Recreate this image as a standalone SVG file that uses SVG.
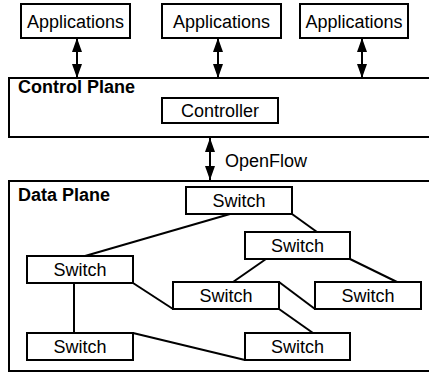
<svg xmlns="http://www.w3.org/2000/svg" width="429" height="372" viewBox="0 0 429 372">
<style>
.box{fill:#fff;stroke:#000;stroke-width:2}
.plane{fill:#fff;stroke:#000;stroke-width:2}
.t{font-family:"Liberation Sans",Arial,sans-serif;font-size:18px;fill:#000;text-anchor:middle}
.b{font-family:"Liberation Sans",Arial,sans-serif;font-size:18px;font-weight:bold;fill:#000}
.l{font-family:"Liberation Sans",Arial,sans-serif;font-size:18px;fill:#000}
.c{stroke:#000;stroke-width:2;fill:none}
.a{stroke:#000;stroke-width:2;fill:none;marker-start:url(#ah);marker-end:url(#ah)}
</style>
<defs>
<marker id="ah" markerUnits="userSpaceOnUse" markerWidth="14" markerHeight="10" viewBox="0 0 14 10" refX="14" refY="5" orient="auto-start-reverse">
<path d="M0,0 L14,5 L0,10 z" fill="#000"/>
</marker>
</defs>
<g id="control-plane">
<rect class="plane" x="9" y="78" width="430" height="59"/>
<text class="b" x="18" y="93">Control Plane</text>
</g>
<g id="data-plane">
<rect class="plane" x="9" y="181" width="430" height="190"/>
<text class="b" x="18" y="201">Data Plane</text>
</g>
<g id="connectors">
<line class="a" x1="77" y1="38" x2="77" y2="78"/>
<line class="a" x1="218" y1="38" x2="218" y2="78"/>
<line class="a" x1="362" y1="38" x2="362" y2="78"/>
<line class="a" x1="210" y1="138" x2="210" y2="180"/>
<text class="l" x="225" y="167">OpenFlow</text>
<line class="c" x1="230" y1="214" x2="85" y2="256"/>
<line class="c" x1="292" y1="214" x2="317" y2="232"/>
<line class="c" x1="266" y1="259" x2="233" y2="282"/>
<line class="c" x1="350" y1="259" x2="397" y2="282"/>
<line class="c" x1="133" y1="283" x2="173" y2="309"/>
<line class="c" x1="279" y1="282" x2="315" y2="309"/>
<line class="c" x1="279" y1="309" x2="313" y2="333"/>
<line class="c" x1="74" y1="283" x2="74" y2="333"/>
<line class="c" x1="133" y1="333" x2="245" y2="360"/>
</g>
<g id="app1"><rect class="box" x="21" y="4" width="109" height="34"/><text class="t" x="75.5" y="27.5">Applications</text></g>
<g id="app2"><rect class="box" x="162" y="4" width="119" height="34"/><text class="t" x="221.5" y="27.5">Applications</text></g>
<g id="app3"><rect class="box" x="300" y="4" width="108" height="34"/><text class="t" x="354" y="27.5">Applications</text></g>
<g id="controller"><rect class="box" x="162" y="98" width="116" height="25"/><text class="t" x="220" y="117">Controller</text></g>
<g id="switch1"><rect class="box" x="186" y="187" width="106" height="27"/><text class="t" x="239" y="207">Switch</text></g>
<g id="switch2"><rect class="box" x="245" y="232" width="105" height="27"/><text class="t" x="297.5" y="252">Switch</text></g>
<g id="switch3"><rect class="box" x="27" y="256" width="106" height="27"/><text class="t" x="80" y="276">Switch</text></g>
<g id="switch4"><rect class="box" x="173" y="282" width="106" height="27"/><text class="t" x="226" y="302">Switch</text></g>
<g id="switch5"><rect class="box" x="315" y="282" width="106" height="27"/><text class="t" x="368" y="302">Switch</text></g>
<g id="switch6"><rect class="box" x="27" y="333" width="106" height="27"/><text class="t" x="80" y="353">Switch</text></g>
<g id="switch7"><rect class="box" x="245" y="333" width="105" height="27"/><text class="t" x="297.5" y="353">Switch</text></g>
</svg>
